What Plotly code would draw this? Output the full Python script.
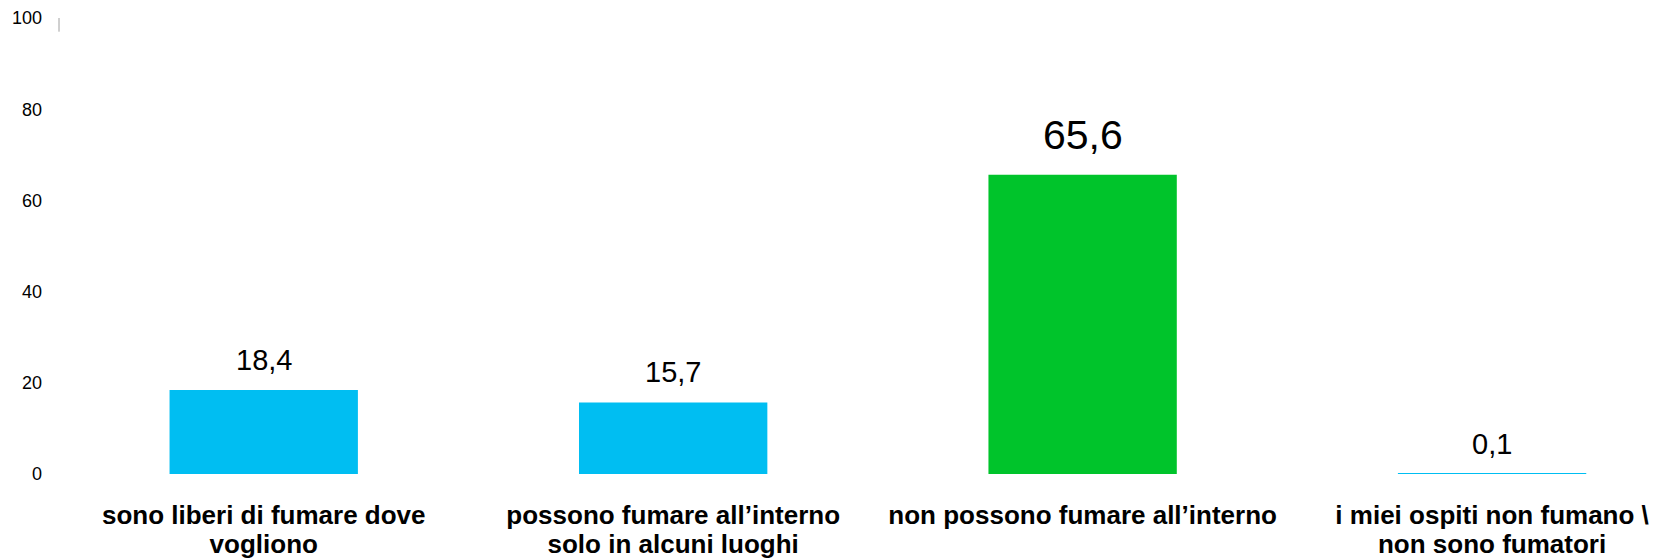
import plotly.graph_objects as go

categories_line1 = [
    "sono liberi di fumare dove",
    "possono fumare all’interno",
    "non possono fumare all’interno",
    "i miei ospiti non fumano \\",
]
categories_line2 = [
    "vogliono",
    "solo in alcuni luoghi",
    "",
    "non sono fumatori",
]
values = [18.4, 15.7, 65.6, 0.1]
y_ticks = [0, 20, 40, 60, 80, 100]

bar_colors = ["#00BEF2", "#00BEF2", "#00C42B", "#00BEF2"]
FONT = "Liberation Sans, Arial, sans-serif"

xs = list(range(len(values)))
fig = go.Figure()
fig.add_trace(go.Bar(
    x=xs, y=values, width=0.46,
    marker=dict(color=bar_colors, line=dict(width=0)),
    hoverinfo="skip",
))
# invisible helper trace carrying the second row of category labels
fig.add_trace(go.Scatter(
    x=xs, y=values, xaxis="x2", mode="markers",
    marker=dict(opacity=0), hoverinfo="skip", showlegend=False,
))

vmax = max(values)
for x, v in zip(xs, values):
    big = v == vmax
    fig.add_annotation(
        x=x, y=v, xref="x", yref="y",
        text=f"{v:.1f}".replace(".", ","),
        showarrow=False, yanchor="bottom", yshift=15 if big else 12,
        font=dict(family=FONT, size=41 if big else 29, color="#000000"),
    )

# small axis stub at top-left
fig.add_shape(type="line", xref="paper", yref="y", x0=0, x1=0, y0=97.0, y1=100,
              line=dict(color="#A0A0A0", width=1))

XR = [-0.5, 3.415]
common_x = dict(
    range=XR, tickvals=xs,
    tickfont=dict(family=FONT, size=26, color="#000000"),
    showgrid=False, zeroline=False, showline=False, ticks="",
)

fig.update_layout(
    width=1654, height=551,
    margin=dict(l=51, r=0, t=7, b=80),
    paper_bgcolor="white", plot_bgcolor="white",
    showlegend=False,
    xaxis=dict(**common_x, ticktext=[f"<b>{c}</b>" for c in categories_line1],
               ticklabelstandoff=23),
    xaxis2=dict(**common_x, ticktext=[f"<b>{c}</b>" for c in categories_line2],
                overlaying="x", side="bottom", ticklabelstandoff=52),
    yaxis=dict(
        range=[0, 100], tickvals=y_ticks,
        tickfont=dict(family=FONT, size=18, color="#000000"),
        showgrid=False, zeroline=False, showline=False, ticks="",
        ticklabelstandoff=16, ticklabeloverflow="allow",
    ),
)

fig.write_html("out.html")
